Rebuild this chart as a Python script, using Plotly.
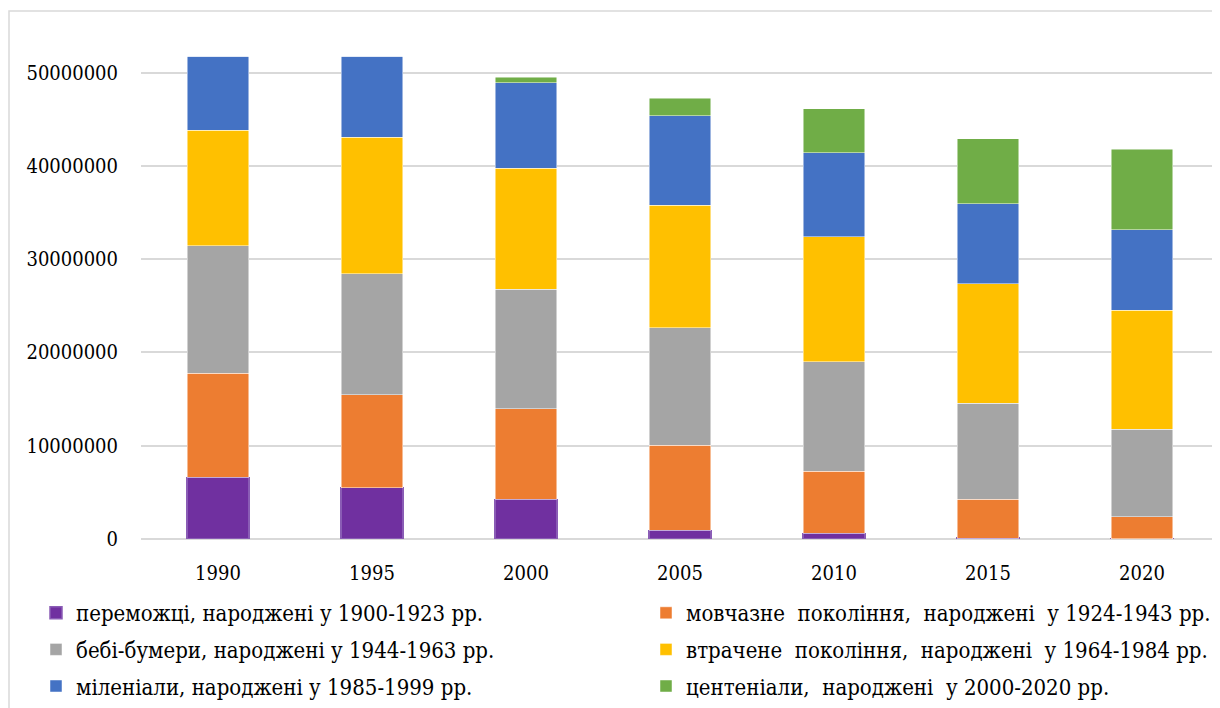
import plotly.graph_objects as go

years = ["1990", "1995", "2000", "2005", "2010", "2015", "2020"]

names = [
    "переможці, народжені у 1900-1923 рр.",
    "мовчазне\u00a0 покоління,\u00a0 народжені\u00a0 у 1924-1943 рр.",
    "бебі-бумери, народжені у 1944-1963 рр.",
    "втрачене\u00a0 покоління,\u00a0 народжені\u00a0 у 1964-1984 рр.",
    "міленіали, народжені у 1985-1999 рр.",
    "центеніали,\u00a0 народжені\u00a0 у 2000-2020 рр.",
]

winners = [6610000, 5500000, 4250000, 920000, 600000, 100000, 20000]
silent = [11150000, 9970000, 9720000, 9110000, 6640000, 4140000, 2340000]
boomers = [13680000, 12970000, 12790000, 12610000, 11790000, 10330000, 9390000]
lost = [12400000, 14650000, 12970000, 13150000, 13370000, 12790000, 12790000]
millennials = [7930000, 8680000, 9180000, 9600000, 9030000, 8610000, 8640000]
centennials = [0, 0, 570000, 1860000, 4680000, 6930000, 8620000]

series = [winners, silent, boomers, lost, millennials, centennials]
colors = ["#7030A0", "#ED7D31", "#A5A5A5", "#FFC000", "#4472C4", "#70AD47"]

FONT = "DejaVu Serif Condensed"

fig = go.Figure()
for i, (nm, vals, col) in enumerate(zip(names, series, colors)):
    fig.add_trace(go.Bar(
        x=years, y=vals, name=nm,
        legend="legend" if i % 2 == 0 else "legend2",
        legendgroup="g%d" % i,
        marker=dict(color=col,
                    line=dict(color="#8a5cb5" if i == 0 else "rgba(255,255,255,0.6)",
                              width=1.5 if i == 0 else 0.8)),
        width=0.4,
    ))

OFF = 8
W, H = 1220 - OFF, 708 - OFF
L, R = 141 - OFF, 1
T = 26 - OFF
ph = 513
B = H - T - ph
pw = W - L - R


def px_x(x):
    return (x - OFF - L) / pw


def px_y(y):
    return (T + ph - (y - OFF)) / ph


legend_common = dict(
    orientation="v", yanchor="top", xanchor="left",
    traceorder="grouped", tracegroupgap=5, itemwidth=30,
    bgcolor="rgba(0,0,0,0)",
    font=dict(family=FONT, size=22, color="black"),
)

fig.update_layout(
    barmode="stack",
    width=W, height=H,
    margin=dict(l=L, r=R, t=T, b=B, autoexpand=False),
    paper_bgcolor="white", plot_bgcolor="white",
    font=dict(family=FONT, size=22, color="black"),
    xaxis=dict(
        type="category", showgrid=False, showline=False, zeroline=False,
        ticks="", ticklabelstandoff=20,
        tickfont=dict(family=FONT, size=20, color="black"),
    ),
    yaxis=dict(
        range=[0, 55000000], tickvals=[0, 10000000, 20000000, 30000000, 40000000, 50000000],
        ticktext=["0", "10000000", "20000000", "30000000", "40000000", "50000000"],
        showgrid=True, gridcolor="#d9d9d9", gridwidth=1.5,
        zeroline=True, zerolinecolor="#d9d9d9", zerolinewidth=1.5,
        showline=False, ticks="", ticklabelstandoff=22,
        tickfont=dict(family=FONT, size=20, color="black"),
    ),
    legend=dict(legend_common, x=px_x(36), y=px_y(592)),
    legend2=dict(legend_common, x=px_x(646), y=px_y(592)),
    showlegend=True,
    shapes=[dict(type="rect", xref="paper", yref="paper",
                 x0=px_x(9), x1=1.05, y0=-0.5, y1=px_y(11),
                 line=dict(color="#d9d9d9", width=1.5), fillcolor="rgba(0,0,0,0)",
                 layer="below")],
)

fig.write_html("out.html")
